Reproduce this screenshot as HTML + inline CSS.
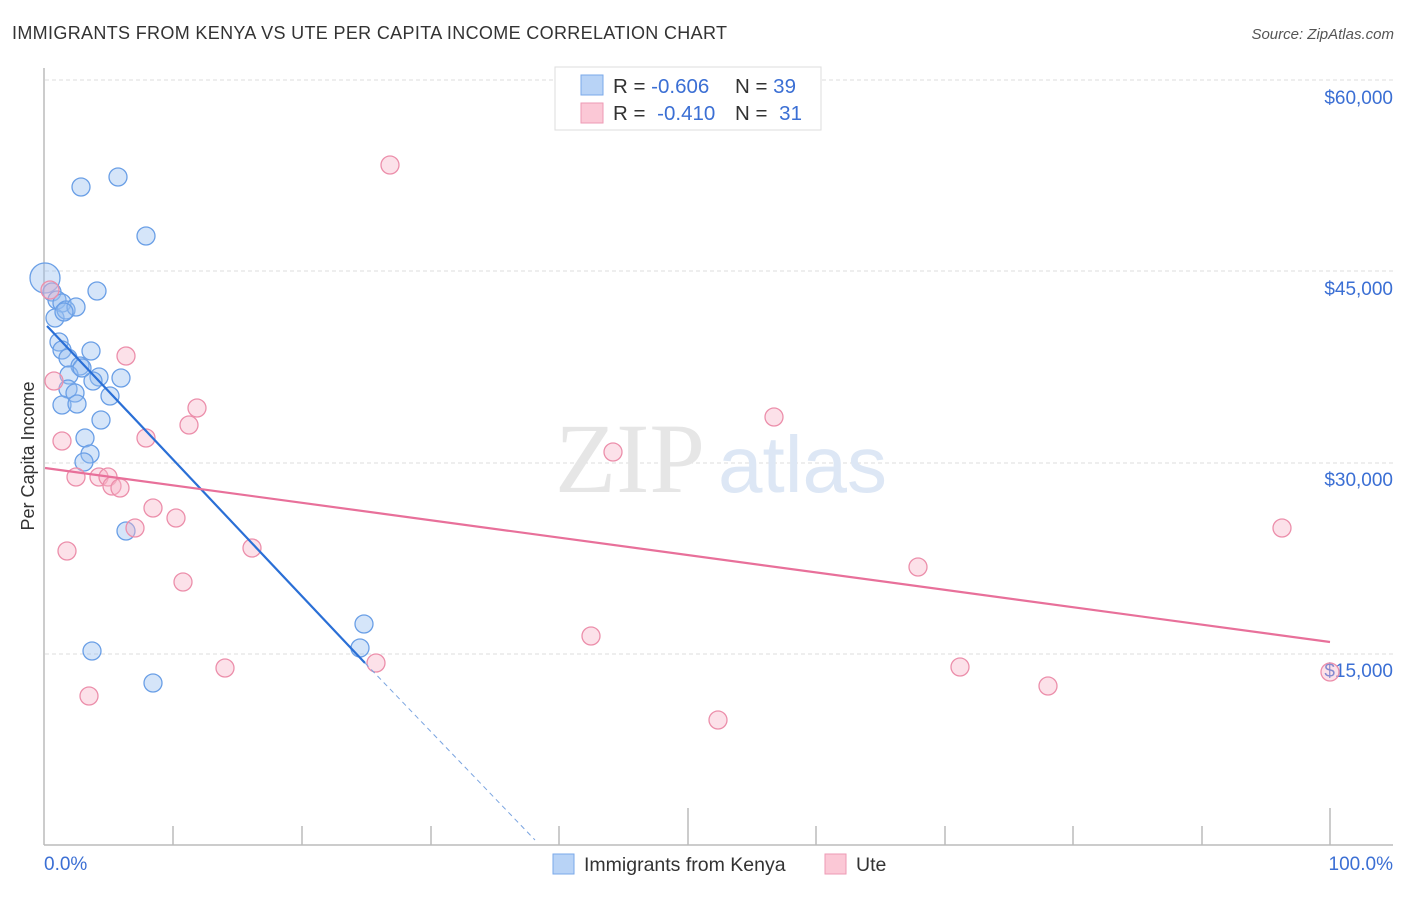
<!DOCTYPE html>
<html><head><meta charset="utf-8"><style>
body{margin:0;background:#fff;width:1406px;height:892px;overflow:hidden;font-family:"Liberation Sans",sans-serif}
</style></head><body>
<svg width="1406" height="892" xmlns="http://www.w3.org/2000/svg" font-family="Liberation Sans, sans-serif">
<text x="12" y="39" font-size="18" fill="#333" textLength="715">IMMIGRANTS FROM KENYA VS UTE PER CAPITA INCOME CORRELATION CHART</text>
<text x="1394" y="39" font-size="15" fill="#555" font-style="italic" text-anchor="end">Source: ZipAtlas.com</text>
<g stroke="#ddd" stroke-dasharray="4,3" stroke-width="1">
<line x1="45" y1="80" x2="1393" y2="80"/><line x1="45" y1="271" x2="1393" y2="271"/>
<line x1="45" y1="463" x2="1393" y2="463"/><line x1="45" y1="654" x2="1393" y2="654"/>
</g>
<g font-size="19" fill="#3b6fd4" text-anchor="end">
<text x="1393" y="104">$60,000</text><text x="1393" y="295">$45,000</text>
<text x="1393" y="486">$30,000</text><text x="1393" y="677">$15,000</text>
</g>
<text x="555" y="492" font-size="100" fill="#e6e6e6" font-family="Liberation Serif, serif">ZIP</text>
<text x="718" y="492" font-size="80" fill="#dde7f5">atlas</text>
<g stroke="#bbb" stroke-width="1.5">
<line x1="44" y1="68" x2="44" y2="845"/><line x1="44" y1="845" x2="1393" y2="845"/>
<line x1="173" y1="826" x2="173" y2="845"/><line x1="302" y1="826" x2="302" y2="845"/>
<line x1="431" y1="826" x2="431" y2="845"/><line x1="559" y1="826" x2="559" y2="845"/>
<line x1="688" y1="808" x2="688" y2="845"/><line x1="816" y1="826" x2="816" y2="845"/>
<line x1="945" y1="826" x2="945" y2="845"/><line x1="1073" y1="826" x2="1073" y2="845"/>
<line x1="1202" y1="826" x2="1202" y2="845"/><line x1="1330" y1="808" x2="1330" y2="845"/>
</g>
<text x="34" y="456" font-size="18" fill="#333" transform="rotate(-90 34 456)" text-anchor="middle">Per Capita Income</text>
<g fill="rgba(150,190,240,0.4)" stroke="#6a9fe6" stroke-width="1.3">
<circle cx="45" cy="278" r="15"/>
<circle cx="81" cy="187" r="9"/><circle cx="118" cy="177" r="9"/><circle cx="146" cy="236" r="9"/><circle cx="97" cy="291" r="9"/>
<circle cx="52" cy="292" r="9"/><circle cx="57" cy="300" r="9"/><circle cx="62" cy="303" r="9"/><circle cx="55" cy="318" r="9"/>
<circle cx="66" cy="310" r="9"/><circle cx="76" cy="307" r="9"/><circle cx="59" cy="342" r="9"/><circle cx="62" cy="350" r="9"/>
<circle cx="91" cy="351" r="9"/><circle cx="68" cy="358" r="9"/><circle cx="80" cy="366" r="9"/><circle cx="69" cy="375" r="9"/>
<circle cx="99" cy="377" r="9"/><circle cx="121" cy="378" r="9"/><circle cx="93" cy="381" r="9"/><circle cx="68" cy="389" r="9"/>
<circle cx="75" cy="393" r="9"/><circle cx="110" cy="396" r="9"/><circle cx="62" cy="405" r="9"/><circle cx="77" cy="404" r="9"/>
<circle cx="101" cy="420" r="9"/><circle cx="85" cy="438" r="9"/><circle cx="90" cy="454" r="9"/><circle cx="84" cy="462" r="9"/>
<circle cx="126" cy="531" r="9"/><circle cx="92" cy="651" r="9"/><circle cx="153" cy="683" r="9"/><circle cx="364" cy="624" r="9"/>
<circle cx="360" cy="648" r="9"/><circle cx="64" cy="312" r="9"/><circle cx="82" cy="368" r="9"/>
</g>
<g fill="rgba(248,180,200,0.4)" stroke="#ec8fab" stroke-width="1.3">
<circle cx="390" cy="165" r="9"/><circle cx="54" cy="381" r="9"/><circle cx="126" cy="356" r="9"/><circle cx="197" cy="408" r="9"/>
<circle cx="189" cy="425" r="9"/><circle cx="62" cy="441" r="9"/><circle cx="146" cy="438" r="9"/><circle cx="613" cy="452" r="9"/>
<circle cx="774" cy="417" r="9"/><circle cx="76" cy="477" r="9"/><circle cx="99" cy="477" r="9"/><circle cx="108" cy="477" r="9"/>
<circle cx="112" cy="486" r="9"/><circle cx="120" cy="488" r="9"/><circle cx="153" cy="508" r="9"/><circle cx="135" cy="528" r="9"/>
<circle cx="176" cy="518" r="9"/><circle cx="67" cy="551" r="9"/><circle cx="252" cy="548" r="9"/><circle cx="183" cy="582" r="9"/>
<circle cx="918" cy="567" r="9"/><circle cx="1282" cy="528" r="9"/><circle cx="591" cy="636" r="9"/><circle cx="225" cy="668" r="9"/>
<circle cx="376" cy="663" r="9"/><circle cx="960" cy="667" r="9"/><circle cx="1048" cy="686" r="9"/><circle cx="1330" cy="672" r="9"/>
<circle cx="89" cy="696" r="9"/><circle cx="718" cy="720" r="9"/><circle cx="50" cy="290" r="9"/>
</g>
<line x1="47" y1="326" x2="365" y2="663" stroke="#2a6fd6" stroke-width="2.2"/>
<line x1="365" y1="663" x2="535" y2="840" stroke="#7aa4e0" stroke-width="1" stroke-dasharray="5,4"/>
<line x1="45" y1="468" x2="1330" y2="642" stroke="#e8709a" stroke-width="2.2"/>
<rect x="555" y="67" width="266" height="63" fill="#fff" stroke="#ddd"/>
<rect x="581" y="75" width="22" height="20" fill="#b8d3f6" stroke="#7aa8ea"/>
<rect x="581" y="103" width="22" height="20" fill="#fbc8d6" stroke="#ee9ab4"/>
<g font-size="20.5">
<text x="613" y="93" fill="#333">R = <tspan fill="#3b6fd4">-0.606</tspan></text>
<text x="735" y="93" fill="#333">N = <tspan fill="#3b6fd4">39</tspan></text>
<text x="613" y="120" fill="#333">R = <tspan fill="#3b6fd4" dx="6">-0.410</tspan></text>
<text x="735" y="120" fill="#333">N = <tspan fill="#3b6fd4" dx="6">31</tspan></text>
</g>
<text x="44" y="870" font-size="19" fill="#3b6fd4">0.0%</text>
<text x="1393" y="870" font-size="19" fill="#3b6fd4" text-anchor="end">100.0%</text>
<rect x="553" y="854" width="21" height="20" fill="#b8d3f6" stroke="#7aa8ea"/>
<text x="584" y="871" font-size="19.5" fill="#333">Immigrants from Kenya</text>
<rect x="825" y="854" width="21" height="20" fill="#fbc8d6" stroke="#ee9ab4"/>
<text x="856" y="871" font-size="19.5" fill="#333">Ute</text>
</svg>
</body></html>
